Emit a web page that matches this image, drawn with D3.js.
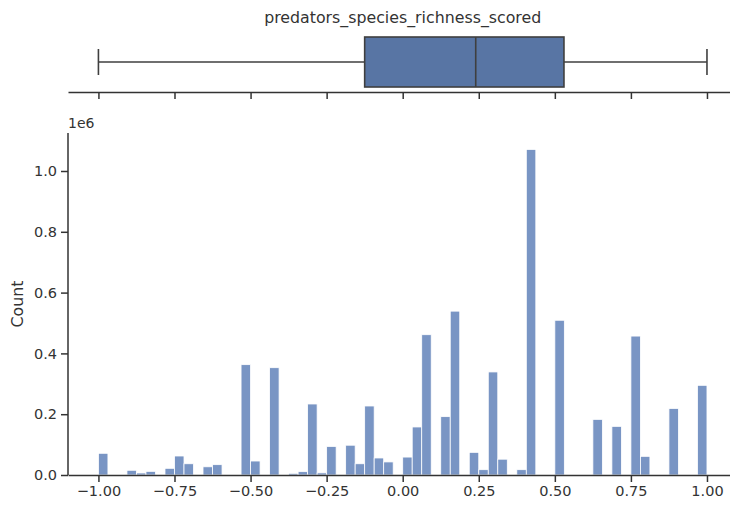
<!DOCTYPE html>
<html><head><meta charset="utf-8">
<script src="https://cdn.jsdelivr.net/npm/d3@7"></script>
<style>body{margin:0;background:#fff}svg{display:block}text{font-family:"DejaVu Sans",sans-serif;fill:#333}</style>
</head><body><svg id="c" width="730" height="506"></svg>
<script>
// Histogram bins (left edge of each non-empty bin) and counts
const binWidth = 0.03125;
const binStarts = [-1.0,-0.90625,-0.875,-0.84375,-0.78125,-0.75,-0.71875,-0.65625,-0.625,-0.53125,-0.5,-0.4375,-0.375,-0.34375,-0.3125,-0.28125,-0.25,-0.1875,-0.15625,-0.125,-0.09375,-0.0625,0.0,0.03125,0.0625,0.125,0.15625,0.21875,0.25,0.28125,0.3125,0.375,0.40625,0.5,0.625,0.6875,0.75,0.78125,0.875,0.96875];
const counts = [71400,15500,6600,12000,22000,62500,37000,27000,34000,363000,46000,353000,5500,11000,233600,7000,94000,98000,37000,227000,56000,43000,59000,158000,461500,192000,539000,74500,17500,339000,52000,17500,1071000,509000,183000,160000,457000,61400,219000,295000];
// Box plot summary
const boxStats = {min:-1.0, q1:-0.125, median:0.24, q3:0.53, max:1.0};
const xTicks = [-1.0,-0.75,-0.5,-0.25,0.0,0.25,0.5,0.75,1.0];
const yTicks = [0,200000,400000,600000,800000,1000000];
const title = "predators_species_richness_scored";

const svg = d3.select("#c");
const x = d3.scaleLinear().domain([-1.1,1.1]).range([68,737.4]);
const y = d3.scaleLinear().domain([0,1125000]).range([475,133]);
const fmtX = v => d3.format(".2f")(v).replace("-","\u2212");
const ink = "#333";

// ---- Box plot panel ----
const by = 62, bh = 50;
svg.append("text").attr("x",x(0)).attr("y",23).attr("text-anchor","middle").attr("font-size",15.8).text(title);
const boxG = svg.append("g");
const lc = "#3f3f3f";
boxG.append("line").attr("x1",x(boxStats.min)).attr("x2",x(boxStats.q1)).attr("y1",by).attr("y2",by).attr("stroke",lc).attr("stroke-width",1.6);
boxG.append("line").attr("x1",x(boxStats.q3)).attr("x2",x(boxStats.max)).attr("y1",by).attr("y2",by).attr("stroke",lc).attr("stroke-width",1.6);
[boxStats.min,boxStats.max].forEach(v=>boxG.append("line").attr("x1",x(v)).attr("x2",x(v)).attr("y1",by-13).attr("y2",by+13).attr("stroke",lc).attr("stroke-width",1.6));
boxG.append("rect").attr("x",x(boxStats.q1)).attr("y",by-bh/2).attr("width",x(boxStats.q3)-x(boxStats.q1)).attr("height",bh).attr("fill","#5875a4").attr("stroke",lc).attr("stroke-width",1.6);
boxG.append("line").attr("x1",x(boxStats.median)).attr("x2",x(boxStats.median)).attr("y1",by-bh/2).attr("y2",by+bh/2).attr("stroke",lc).attr("stroke-width",1.6);
const topAxis = svg.append("g").attr("transform","translate(0,92)")
  .call(d3.axisBottom(x).tickValues(xTicks).tickSize(7).tickSizeOuter(0).tickFormat(""));
topAxis.select(".domain").attr("stroke",ink).attr("stroke-width",1.5);
topAxis.selectAll(".tick line").attr("stroke",ink).attr("stroke-width",1.5);

// ---- Histogram ----
svg.append("g").selectAll("rect").data(binStarts).join("rect")
  .attr("x",(d)=>x(d)).attr("width",(d)=>x(d+binWidth)-x(d))
  .attr("y",(d,i)=>y(counts[i])).attr("height",(d,i)=>y(0)-y(counts[i]))
  .attr("fill","#4c72b0").attr("fill-opacity",0.75).attr("stroke","#fff").attr("stroke-width",0.8);

const xa = svg.append("g").attr("transform","translate(0,475)")
  .call(d3.axisBottom(x).tickValues(xTicks).tickSize(7).tickSizeOuter(0).tickPadding(4).tickFormat(fmtX));
const ya = svg.append("g").attr("transform","translate(68,0)")
  .call(d3.axisLeft(y).tickValues(yTicks).tickSize(7).tickSizeOuter(0).tickPadding(4).tickFormat(v=>(v/1e6).toFixed(1)));
[xa,ya].forEach(a=>{
  a.select(".domain").attr("stroke",ink).attr("stroke-width",1.5);
  a.selectAll(".tick line").attr("stroke",ink).attr("stroke-width",1.5);
  a.selectAll(".tick text").attr("font-size",14.5).attr("fill",ink).attr("font-family","DejaVu Sans, sans-serif");
});
ya.select(".domain").attr("d","M0,133V475");
svg.append("text").attr("x",68).attr("y",128).attr("font-size",14).text("1e6");
svg.append("text").attr("transform","translate(23,304) rotate(-90)").attr("text-anchor","middle").attr("font-size",15.8).text("Count");
</script></body></html>
